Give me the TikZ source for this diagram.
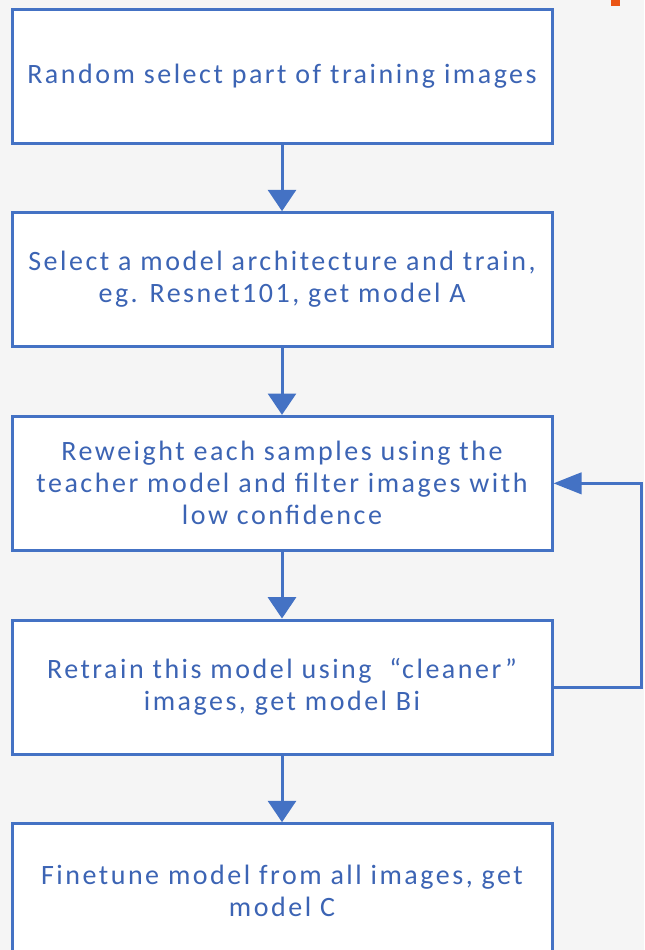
\documentclass[tikz,border=0pt]{standalone}
\usepackage{fontspec}
\setmainfont[LetterSpace=9]{Carlito}
\usetikzlibrary{arrows.meta,positioning}
\definecolor{flowblue}{RGB}{68,114,196}
\definecolor{flowtext}{RGB}{60,100,180}
\definecolor{logoorange}{RGB}{234,84,20}
\tikzset{
  stepbox/.style={draw=flowblue, line width=2.25pt, fill=white,
    minimum width=405pt, minimum height=100.5pt, align=center,
    text=flowtext, font=\fontsize{21}{24}\selectfont},
  flow/.style={draw=flowblue, line width=2.25pt,
    -{Triangle[width=21pt,length=16pt]}}
}
\begin{document}
\begin{tikzpicture}[x=0.75pt,y=-0.75pt, node distance=50pt]
\useasboundingbox (0,0) rectangle (644,950);
\fill[gray!8] (0,0) rectangle (644,950);
\fill[logoorange] (611,0) rectangle (620,6);
\node[stepbox] (select) at (282,76) {Random select part of training images};
\node[stepbox, below=of select] (train) {Select a model architecture and train,\\ eg. Resnet101, get model A};
\node[stepbox, below=of train] (reweight) {Reweight each samples using the\\ teacher model and filter images with\\ low confidence};
\node[stepbox, below=of reweight] (retrain) {Retrain this model using \ “cleaner”\\ images, get model Bi};
\node[stepbox, below=of retrain] (finetune) {Finetune model from all images, get\\ model C};
\draw[flow] (select) -- (train);
\draw[flow] (train) -- (reweight);
\draw[flow] (reweight) -- (retrain);
\draw[flow] (retrain) -- (finetune);
\draw[flow,-{Triangle[width=16pt,length=21pt]}] (retrain.east) -- ++(88,0) |- (reweight.east);
\end{tikzpicture}
\end{document}
